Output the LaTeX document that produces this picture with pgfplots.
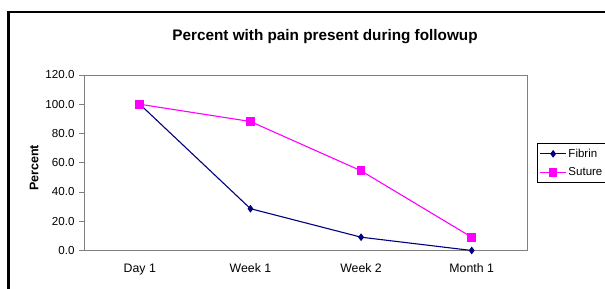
\documentclass[border=0pt]{standalone}
\usepackage{pgfplots}
\pgfplotsset{compat=1.18}
\usepackage{fontspec}
\setmainfont{Liberation Sans}
\definecolor{fibrin}{RGB}{0,0,128}
\definecolor{suture}{RGB}{255,0,255}
\definecolor{axgray}{RGB}{128,128,128}
\begin{document}
\begin{tikzpicture}
\useasboundingbox (0,0) rectangle (605pt,289pt);
\draw[line width=2.2pt] (8.5pt,-10pt) -- (8.5pt,277pt) -- (700pt,277pt);
\node[font=\bfseries\fontsize{15.3}{18}\selectfont] at (325pt,252.5pt) {Percent with pain present during followup};
\begin{axis}[
  at={(84.5pt,38.5pt)}, anchor=south west,
  scale only axis, width=442.5pt, height=175.5pt,
  xmin=-0.5, xmax=3.5, ymin=0, ymax=120,
  axis line style={axgray, line width=0.9pt},
  xtick={0,1,2,3},
  xticklabels={Day 1, Week 1, Week 2, Month 1},
  major x tick style={draw=none},
  extra x ticks={-0.5,0.5,1.5,2.5,3.5},
  extra x tick labels={},
  extra x tick style={tick style={draw=axgray, line width=0.9pt}, major tick length=5pt},
  ytick={0,20,40,60,80,100,120},
  /pgf/number format/assume math mode=true,
  tick align=outside, major tick length=5pt,
  tick style={axgray, line width=0.9pt},
  xtick pos=bottom, ytick pos=left,
  yticklabel style={font=\fontsize{11.6}{14}\selectfont, black, xshift=-1.5pt,
    /pgf/number format/fixed, /pgf/number format/fixed zerofill, /pgf/number format/precision=1},
  xticklabel style={font=\fontsize{12.3}{14}\selectfont, black, yshift=-5pt},
  ylabel={Percent},
  ylabel style={font=\bfseries\fontsize{12.5}{14}\selectfont, at={(axis description cs:-0.114,0.47)}, anchor=center},
  legend style={at={(axis description cs:1.0237,0.612)}, anchor=north west,
    draw=black, line width=0.6pt, font=\fontsize{11.5}{13}\selectfont,
    inner xsep=2pt, inner ysep=3.5pt, row sep=5pt, cells={anchor=west}},
  legend image code/.code={\draw[mark repeat=2,mark phase=2] plot coordinates {(0cm,0cm) (0.45cm,0cm) (0.9cm,0cm)};},
]
\addplot[fibrin, line width=1.1pt, mark=diamond*, mark size=3pt, mark options={fill=fibrin}] coordinates {(0,100) (1,28.6) (2,9.1) (3,0)};
\addlegendentry{Fibrin}
\addplot[suture, line width=1.1pt, mark=square*, mark size=3.8pt, mark options={fill=suture}] coordinates {(0,100) (1,88.2) (2,54.5) (3,9.1)};
\addlegendentry{Suture}
\end{axis}
\end{tikzpicture}
\end{document}
